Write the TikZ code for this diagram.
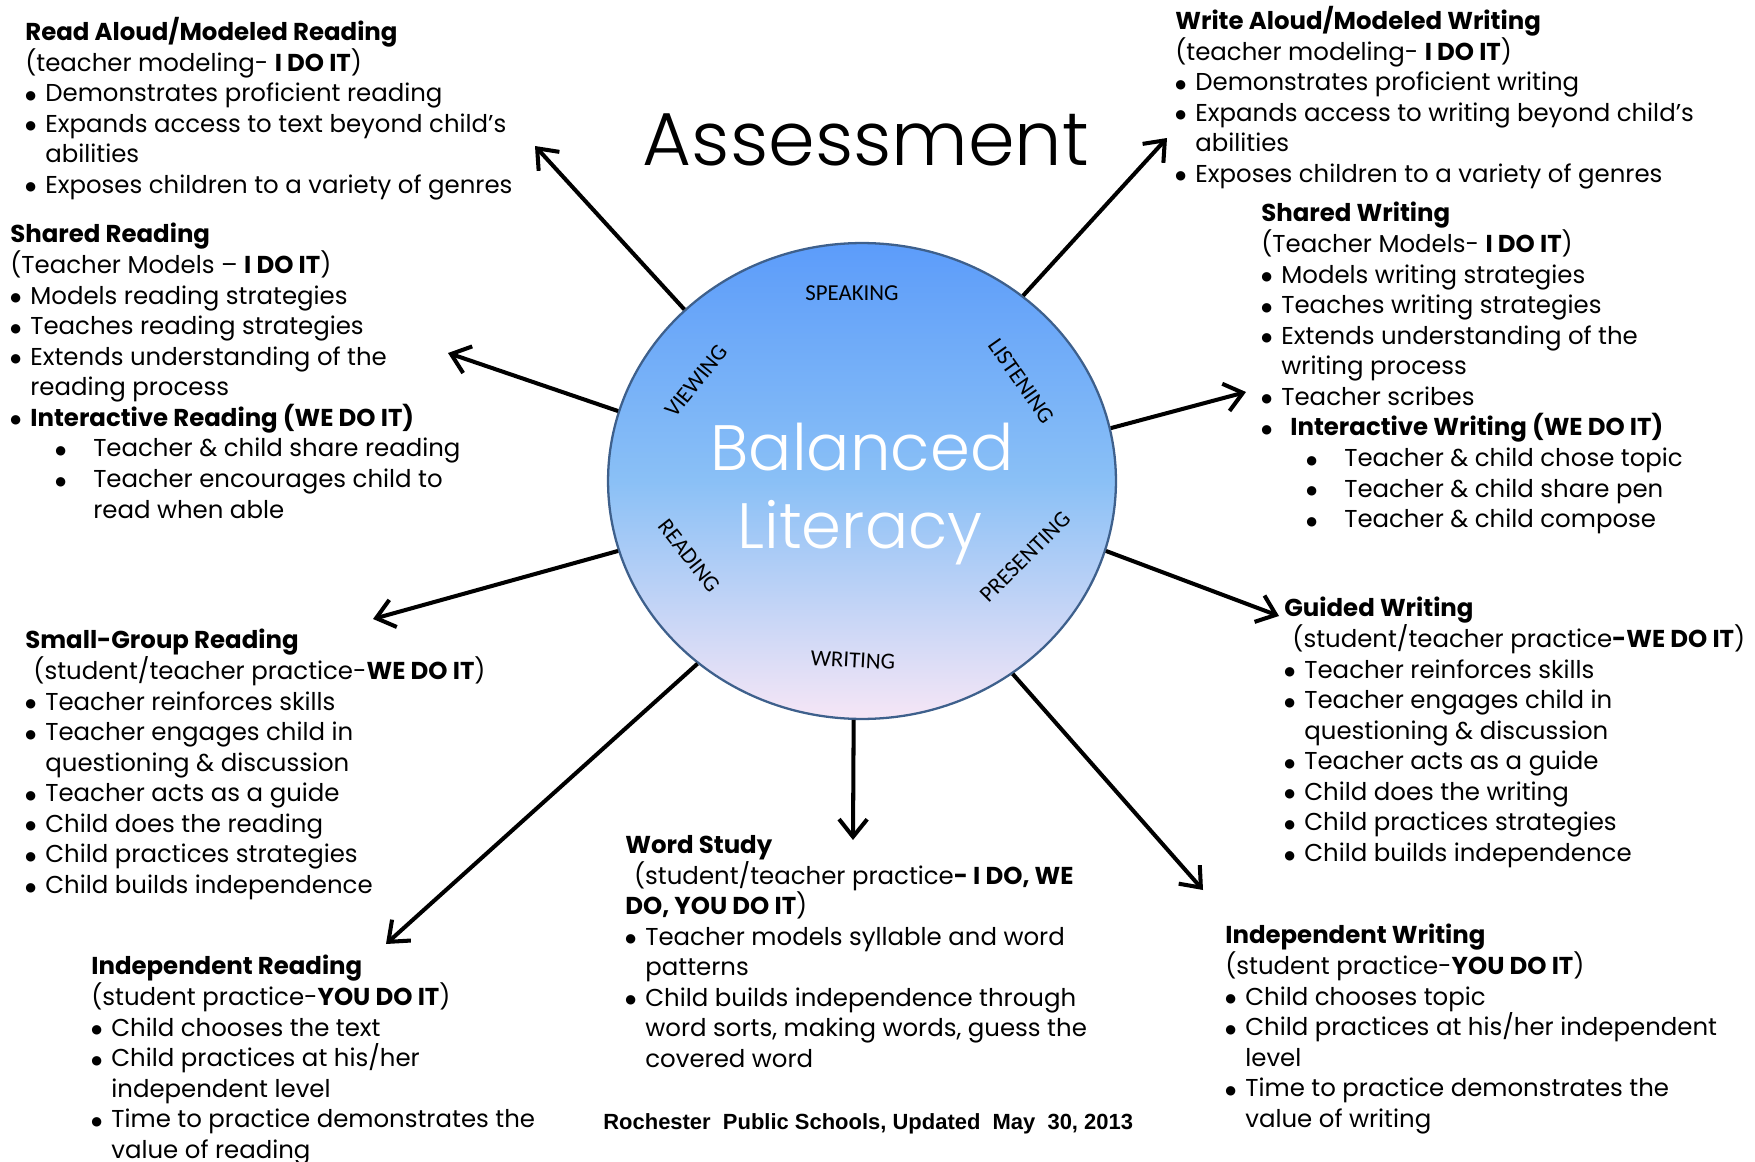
\documentclass[tikz,border=0pt]{standalone}
\usepackage{fontspec}
\setmainfont{Poppins}
\newfontfamily\thinfont{Poppins Light}
\newfontfamily\capfont{Carlito}
\newfontfamily\footfont{Liberation Sans}
\newfontfamily\dotfont{DejaVu Sans}
\usetikzlibrary{arrows.meta,shapes.geometric,positioning}

\definecolor{skytop}{RGB}{92,156,250}
\definecolor{skymid}{RGB}{138,192,246}
\definecolor{skybot}{RGB}{246,230,246}
\definecolor{rimblue}{RGB}{62,96,140}

\newcommand{\dotmark}{\raisebox{1.4pt}{\dotfont\fontsize{7}{7}\selectfont ●}}
\newcommand{\bul}{\makebox[11.4pt][l]{\dotmark}}
\newcommand{\ind}{\hspace*{11.4pt}}
\newcommand{\subbul}{\hspace*{25.6pt}\makebox[21.6pt][l]{\dotmark}}
\newcommand{\subind}{\hspace*{47.2pt}}

\begin{document}
\begin{tikzpicture} [x=0.02cm, y=-0.02cm,
    blk/.style={anchor=north west, inner sep=0pt, align=left, font=\fontsize{13.9}{17.4}\selectfont},
    circlab/.style={inner sep=0pt, font=\capfont\fontsize{13}{15}\selectfont},
    lit/.style={ellipse, draw=rimblue, line width=1.3pt, minimum width=10.16cm, minimum height=9.52cm,
        inner sep=0pt, top color=skytop, bottom color=skybot, middle color=skymid},
    >={Straight Barb[length=10pt,width=16pt]}
    ]
    \useasboundingbox (0,0) rectangle (1755,1162);
    %Circle
    \node[lit]  (lit)  at (862,481) {};
    \node[circlab]  (speak)  at (852,293) {SPEAKING};
    \node[circlab, rotate=-55]  (listen)  at (1021,381) {LISTENING};
    \node[circlab, rotate=51]  (view)  at (696,381) {VIEWING};
    \node[circlab, rotate=-52]  (read)  at (689,556) {READING};
    \node[circlab, rotate=45]  (present)  at (1025,557) {PRESENTING};
    \node[circlab, rotate=-3]  (write)  at (853,660) {WRITING};
    \node[anchor=base, inner sep=0pt, text=white, font=\thinfont\fontsize{36.5}{40}\selectfont] (bal) at (862,470) {Balanced};
    \node[anchor=base, inner sep=0pt, text=white, font=\thinfont\fontsize{36.5}{40}\selectfont] (litc) at (860,548) {Literacy};
    \node[anchor=base, inner sep=0pt, font=\thinfont\fontsize{42.7}{48}\selectfont] (assess) at (866,166) {Assessment};
    %Blocks
    \node[blk] (ra) at (25,17) {\textbf{Read Aloud/Modeled Reading}\\
        (teacher modeling- \textbf{I DO IT})\\
        \bul Demonstrates proficient reading\\
        \bul Expands access to text beyond child’s\\
        \ind abilities\\
        \bul Exposes children to a variety of genres};
    \node[blk] (wa) at (1175,6) {\textbf{Write Aloud/Modeled Writing}\\
        (teacher modeling- \textbf{I DO IT})\\
        \bul Demonstrates proficient writing\\
        \bul Expands access to writing beyond child’s\\
        \ind abilities\\
        \bul Exposes children to a variety of genres};
    \node[blk] (sr) at (10,223) {\textbf{Shared Reading}\\
        (Teacher Models – \textbf{I DO IT})\\
        \bul Models reading strategies\\
        \bul Teaches reading strategies\\
        \bul Extends understanding of the\\
        \ind reading process\\
        \bul \textbf{Interactive Reading (WE DO IT)}\\
        \subbul Teacher \& child share reading\\
        \subbul Teacher encourages child to\\
        \subind read when able};
    \node[blk] (sw) at (1261,202) {\textbf{Shared Writing}\\
        (Teacher Models- \textbf{I DO IT})\\
        \bul Models writing strategies\\
        \bul Teaches writing strategies\\
        \bul Extends understanding of the\\
        \ind writing process\\
        \bul Teacher scribes\\
        \makebox[16.5pt][l]{\dotmark}\textbf{Interactive Writing (WE DO IT)}\\
        \subbul Teacher \& child chose topic\\
        \subbul Teacher \& child share pen\\
        \subbul Teacher \& child compose};
    \node[blk] (sg) at (25,629) {\textbf{Small-Group Reading}\\
        \hspace*{4.6pt}(student/teacher practice-\textbf{WE DO IT})\\
        \bul Teacher reinforces skills\\
        \bul Teacher engages child in\\
        \ind questioning \& discussion\\
        \bul Teacher acts as a guide\\
        \bul Child does the reading\\
        \bul Child practices strategies\\
        \bul Child builds independence};
    \node[blk] (gw) at (1284,597) {\textbf{Guided Writing}\\
        \hspace*{4.6pt}(student/teacher practice\textbf{-WE DO IT})\\
        \bul Teacher reinforces skills\\
        \bul Teacher engages child in\\
        \ind questioning \& discussion\\
        \bul Teacher acts as a guide\\
        \bul Child does the writing\\
        \bul Child practices strategies\\
        \bul Child builds independence};
    \node[blk] (ws) at (625,835) {\textbf{Word Study}\\
        \hspace*{5pt}(student/teacher practice\textbf{- I DO, WE}\\
        \textbf{DO, YOU DO IT})\\
        \bul Teacher models syllable and word\\
        \ind patterns\\
        \bul Child builds independence through\\
        \ind word sorts, making words, guess the\\
        \ind covered word};
    \node[blk] (iw) at (1225,924) {\textbf{Independent Writing}\\
        (student practice-\textbf{YOU DO IT})\\
        \bul Child chooses topic\\
        \bul Child practices at his/her independent\\
        \ind level\\
        \bul Time to practice demonstrates the\\
        \ind value of writing};
    \node[blk] (ir) at (91,955) {\textbf{Independent Reading}\\
        (student practice-\textbf{YOU DO IT})\\
        \bul Child chooses the text\\
        \bul Child practices at his/her\\
        \ind independent level\\
        \bul Time to practice demonstrates the\\
        \ind value of reading};
    \node[anchor=base west, inner sep=0pt, font=\footfont\bfseries\fontsize{12.5}{14}\selectfont] (foot) at (603,1129)
        {Rochester\ \ Public Schools, Updated\ \ May\ \ 30, 2013};
    %Tips
    \coordinate (toRA) at (535,146);
    \coordinate (toWA) at (1167,138);
    \coordinate (toSR) at (448,353);
    \coordinate (toSW) at (1246,392);
    \coordinate (toSG) at (373,619);
    \coordinate (toGW) at (1279,616);
    \coordinate (toIR) at (386,944);
    \coordinate (toWS) at (853,840);
    \coordinate (toIW) at (1203,890);
    %Lines
    \draw[->, line width=2.3pt] (lit.136) -- (toRA);
    \draw[->, line width=2.3pt] (lit.49) -- (toWA);
    \draw[->, line width=2.3pt] (lit.164) -- (toSR);
    \draw[->, line width=2.3pt] (lit.12) -- (toSW);
    \draw[->, line width=2.3pt] (lit.-164) -- (toSG);
    \draw[->, line width=2.3pt] (lit.-16) -- (toGW);
    \draw[->, line width=2.3pt] (lit.-132) -- (toIR);
    \draw[->, line width=2.3pt] (lit.-92) -- (toWS);
    \draw[->, line width=2.3pt] (lit.-52) -- (toIW);
\end{tikzpicture}
\end{document}
